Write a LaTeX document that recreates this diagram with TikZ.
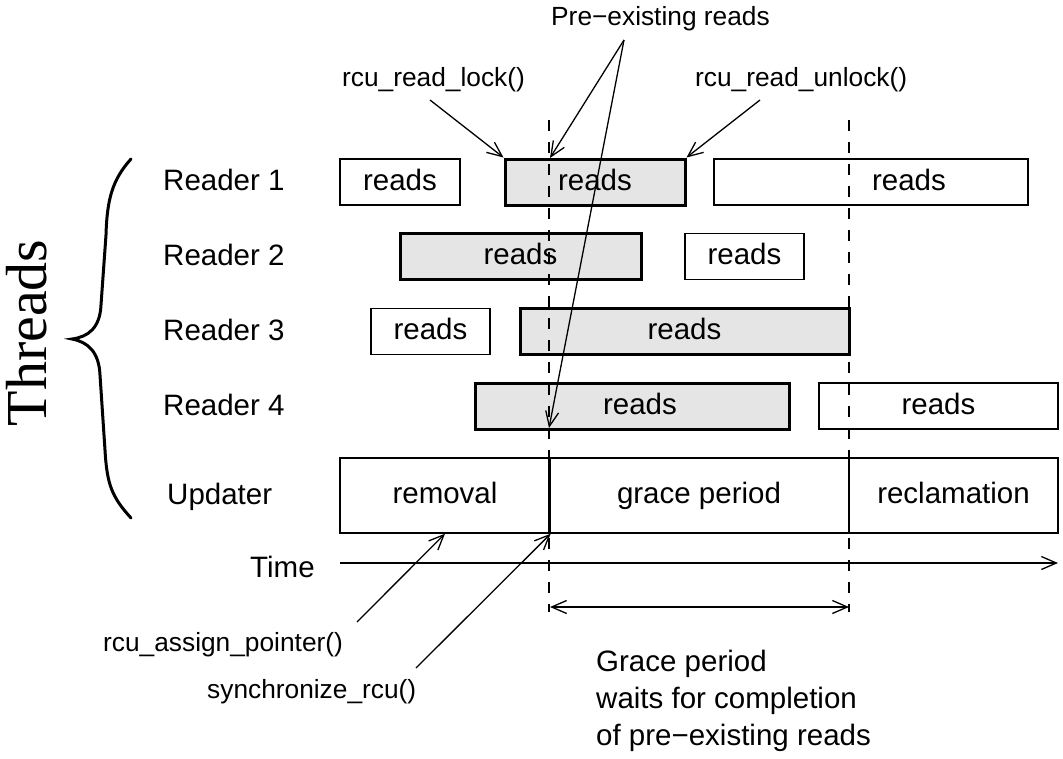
\documentclass[tikz,border=0pt]{standalone}
\usepackage{fontspec}
\setmainfont{Liberation Sans}
\newfontfamily\thrfont{Liberation Serif}
\usetikzlibrary{arrows.meta}
\begin{document}
\begin{tikzpicture}[x=1pt,y=-1pt,
  bigtxt/.style={font=\fontsize{29.5}{30}\selectfont, inner sep=0pt},
  smalltxt/.style={font=\fontsize{26.3}{28}\selectfont, inner sep=0pt},
  wbox/.style={draw, line width=1.4pt, inner sep=0pt, minimum height=46pt, text height=16pt, text depth=0pt, font=\fontsize{29.5}{30}\selectfont},
  gbox/.style={wbox, fill=gray!20, line width=3pt},
  ubox/.style={wbox, minimum height=75pt},
  barb/.tip={Straight Barb[length=15pt,width=13pt]},
  conn/.style={line width=1.3pt, -barb},
  dashline/.style={line width=1.3pt, dash pattern=on 11pt off 11pt}]
\useasboundingbox (0,0) rectangle (1063,758);

% Threads and brace
\node[font=\thrfont\fontsize{58}{60}\selectfont, rotate=90, anchor=base, inner sep=0pt] (threads) at (46,333) {Threads};
\draw[line width=3pt, line cap=round] (131,159) .. controls (112,180) and (107,200) .. (106,235) -- (101,305) .. controls (100,328) and (88,337) .. (72,339) .. controls (88,342) and (99,352) .. (100,375) -- (105,450) .. controls (107,485) and (112,497) .. (131,518);

% thread labels
\node[bigtxt, anchor=base west] (rd1) at (163,190) {Reader 1};
\node[bigtxt, anchor=base west] (rd2) at (163,265) {Reader 2};
\node[bigtxt, anchor=base west] (rd3) at (163,340) {Reader 3};
\node[bigtxt, anchor=base west] (rd4) at (163,415) {Reader 4};
\node[bigtxt, anchor=base west] (upd) at (167,504) {Updater};
\node[bigtxt, anchor=base west] (time) at (250,577) {Time};

% reader boxes
\node[wbox, minimum width=120pt] (r1a) at (400,182) {reads};
\node[gbox, minimum width=180pt] (r1b) at (595,182) {reads};
\node[wbox, minimum width=314pt] (r1c) at (871,182) {};
\node[bigtxt, text height=16pt, text depth=0pt] (r1ct) at (909,182) {reads};
\node[gbox, minimum width=241pt] (r2a) at (520.5,256.5) {reads};
\node[wbox, minimum width=119pt] (r2b) at (744.5,256.5) {reads};
\node[wbox, minimum width=119pt] (r3a) at (430.5,331.5) {reads};
\node[gbox, minimum width=329pt] (r3b) at (684.5,331.5) {reads};
\node[gbox, minimum width=314pt] (r4a) at (632,406) {};
\node[bigtxt, text height=16pt, text depth=0pt] (r4at) at (640,406) {reads};
\node[wbox, minimum width=239pt] (r4b) at (938.5,406) {reads};

% updater
\node[ubox, minimum width=210pt] (rem) at (445,495.5) {removal};
\node[ubox, minimum width=300pt] (grace) at (699,495.5) {grace period};
\node[ubox, minimum width=209pt] (recl) at (953.5,495.5) {reclamation};

% dashed lines
\coordinate (d1t) at (549,120); \coordinate (d1b) at (549,612);
\coordinate (d2t) at (849,120); \coordinate (d2b) at (849,612);
\draw[dashline] (d1t) -- (d1b);
\draw[dashline] (d2t) -- (d2b);

% time axis and grace period span
\coordinate (ts) at (340,563); \coordinate (te) at (1058,563);
\draw[conn] (ts) -- (te);
\coordinate (gs) at (550,607); \coordinate (ge) at (849,607);
\draw[line width=1.3pt, barb-barb] (gs) -- (ge);

% top labels
\node[smalltxt, anchor=base west] (pre) at (551,25) {Pre−existing reads};
\node[smalltxt, anchor=base west] (lock) at (342,86) {rcu\_read\_lock()};
\node[smalltxt, anchor=base west] (unlock) at (695,86) {rcu\_read\_unlock()};
\coordinate (pes) at (624,40);
\coordinate (lks) at (430,100);
\coordinate (uls) at (760,100);
\coordinate (pe1) at (550,158);
\coordinate (pe2) at (549,428);
\draw[conn] (lks) -- (r1b.north west);
\draw[conn] (uls) -- (r1b.north east);
\draw[conn] (pes) -- (pe1);
\draw[conn] (pes) -- (pe2);

% bottom labels
\node[smalltxt, anchor=base west] (assign) at (103,651) {rcu\_assign\_pointer()};
\node[smalltxt, anchor=base west] (sync) at (207,698) {synchronize\_rcu()};
\coordinate (asn) at (357,622);
\coordinate (syn) at (416,668);
\draw[conn] (asn) -- (rem.south);
\draw[conn] (syn) -- (rem.south east);

\node[bigtxt, anchor=base west] (g1) at (596,671) {Grace period};
\node[bigtxt, anchor=base west] (g2) at (596,708) {waits for completion};
\node[bigtxt, anchor=base west] (g3) at (596,745) {of pre−existing reads};
\end{tikzpicture}
\end{document}
